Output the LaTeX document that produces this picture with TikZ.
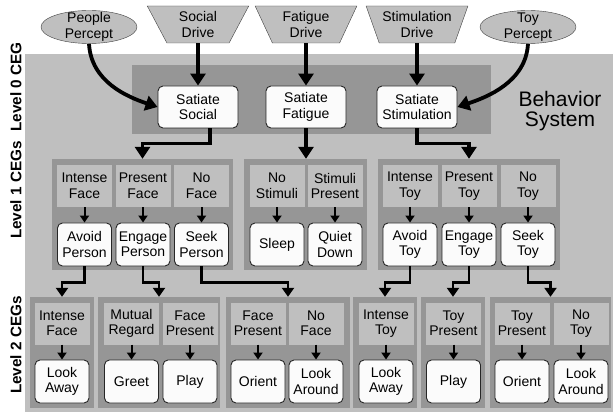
\documentclass[tikz,border=0pt]{standalone}
\usepackage{fontspec}
\setmainfont{Liberation Sans}
\usetikzlibrary{shapes.geometric, arrows.meta}
\definecolor{palegray}{gray}{0.75}
\definecolor{midgray}{gray}{0.59}
\definecolor{nodewhite}{gray}{0.985}
\definecolor{edgegray}{gray}{0.25}

\tikzset{
  txt/.style={font=\fontsize{14}{15.5}\selectfont, align=center, inner sep=0pt},
  behav/.style={txt, draw=black!85, line width=0.9pt, rounded corners=5pt, fill=nodewhite, minimum width=54pt, minimum height=43pt},
  satiate/.style={behav, minimum width=80pt, minimum height=42pt},
  cond/.style={txt, fill=palegray, minimum width=55pt, minimum height=42pt},
  grp/.style={fill=midgray, inner sep=0pt, minimum height=111pt},
  percept/.style={txt, ellipse, inner xsep=0pt, inner ysep=-3pt, draw=edgegray, fill=palegray, minimum width=96pt, minimum height=33pt},
  drive/.style={txt, trapezium, shape border rotate=180, trapezium left angle=65, trapezium right angle=65,
    trapezium stretches=true, draw=edgegray, fill=palegray, minimum width=102pt, minimum height=37pt},
  bigarrow/.style={line width=3.8pt, -{Triangle[width=15pt,length=12pt]}},
  midarrow/.style={line width=2.8pt, -{Triangle[width=12pt,length=9pt]}},
  smallarrow/.style={line width=2pt, -{Triangle[width=9pt,length=7pt]}},
  levellabel/.style={rotate=90, font=\fontsize{15.3}{17}\selectfont\bfseries}
}

\begin{document}
\begin{tikzpicture}[x=1pt,y=-1pt]

% Vertical positions (y grows downwards)
\def\yTop{24.5}
\def\ySat{107}
\def\yGrpA{214.5}
\def\yCondA{186}
\def\yBehavA{244.5}
\def\yGrpB{352.5}
\def\yCondB{323.5}
\def\yBehavB{381.5}

\useasboundingbox (0,0) rectangle (613,414);

% Behavior system background and level 0 box
\fill[palegray] (25,54) rectangle (613,412);
\fill[midgray] (132,65) rectangle (491,134);

% Level labels
\node[levellabel] (lev0) at (16,87) {Level 0 CEG};
\node[levellabel] (lev1) at (16,190) {Level 1 CEGs};
\node[levellabel] (lev2) at (16,345) {Level 2 CEGs};

% Percepts and drives
\node[percept] (ppeople) at (89,27) {People\\Percept};
\node[percept] (ptoy) at (528,27) {Toy\\Percept};
\node[drive] (dsoc) at (198,\yTop) {Social\\Drive};
\node[drive] (dfat) at (306,\yTop) {Fatigue\\Drive};
\node[drive] (dstim) at (417,\yTop) {Stimulation\\Drive};

% Level 0
\node[satiate] (ssoc) at (198,\ySat) {Satiate\\Social};
\node[satiate] (sfat) at (306,\ySat) {Satiate\\Fatigue};
\node[satiate] (sstim) at (417,\ySat) {Satiate\\Stimulation};
\node[font=\fontsize{21}{20.5}\selectfont, align=center] (bsys) at (560,111) {Behavior\\System};

\draw[bigarrow] (dsoc) -- (ssoc);
\draw[bigarrow] (dfat) -- (sfat);
\draw[bigarrow] (dstim) -- (sstim);
\draw[bigarrow] (ppeople.south) .. controls +(2,38) and +(-30,-10) .. (ssoc.west);
\draw[bigarrow] (ptoy.south) .. controls +(-2,38) and +(30,-10) .. (sstim.east);

% Level 1 groups
\foreach \xc/\w/\nm in {142.5/181/gA, 305.5/123/gB, 469/182/gC}
  \node[grp, minimum width=\w pt] (\nm) at (\xc,\yGrpA) {};

\foreach \xc/\cnd/\act/\nm in {84.5/{Intense\\Face}/{Avoid\\Person}/avoidP,
    143/{Present\\Face}/{Engage\\Person}/engageP, 201.5/{No\\Face}/{Seek\\Person}/seekP,
    277/{No\\Stimuli}/{Sleep}/sleep, 335/{Stimuli\\Present}/{Quiet\\Down}/quiet,
    410/{Intense\\Toy}/{Avoid\\Toy}/avoidT, 469/{Present\\Toy}/{Engage\\Toy}/engageT,
    528/{No\\Toy}/{Seek\\Toy}/seekT} {
  \node[cond] (c\nm) at (\xc,\yCondA) {\cnd};
  \node[behav] (\nm) at (\xc,\yBehavA) {\act};
  \draw[smallarrow] (c\nm) -- (\nm);
}

\draw[bigarrow] ([xshift=12pt]ssoc.south) -- ++(0,15) -| (gA.north);
\draw[bigarrow] (sfat.south) -- (sfat.south |- gB.north);
\draw[bigarrow] (sstim.south) -- ++(0,15) -| (gC.north);

% Level 2 groups
\foreach \xc/\w/\nm in {62/64/g1, 159/122/g2, 288/124/g3, 385/64/g4, 453/64/g5, 550.5/121/g6}
  \node[grp, minimum width=\w pt] (\nm) at (\xc,\yGrpB) {};

\foreach \xc/\cnd/\act/\nm in {62/{Intense\\Face}/{Look\\Away}/lookawayP,
    131.5/{Mutual\\Regard}/{Greet}/greet, 190/{Face\\Present}/{Play}/playP,
    258/{Face\\Present}/{Orient}/orientP, 316/{No\\Face}/{Look\\Around}/lookaroundP,
    386/{Intense\\Toy}/{Look\\Away}/lookawayT, 453.5/{Toy\\Present}/{Play}/playT,
    522/{Toy\\Present}/{Orient}/orientT, 581/{No\\Toy}/{Look\\Around}/lookaroundT} {
  \node[cond] (c\nm) at (\xc,\yCondB) {\cnd};
  \node[behav] (\nm) at (\xc,\yBehavB) {\act};
  \draw[smallarrow] (c\nm) -- (\nm);
}

% Level 1 to level 2
\draw[midarrow] (avoidP.south) -- ++(0,16) -| (g1.north);
\draw[midarrow] (engageP.south) -- ++(0,16) -| (g2.north);
\draw[midarrow] (seekP.south) -- ++(0,16) -| (g3.north);
\draw[midarrow] (avoidT.south) -- ++(0,16) -| (g4.north);
\draw[midarrow] (engageT.south) -- ++(0,16) -| (g5.north);
\draw[midarrow] (seekT.south) -- ++(0,16) -| (g6.north);

\end{tikzpicture}
\end{document}
